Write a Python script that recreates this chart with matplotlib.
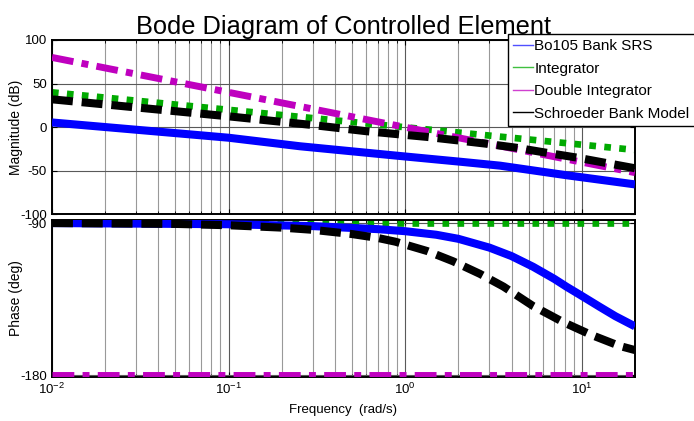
import matplotlib
matplotlib.use("Agg")
import matplotlib.pyplot as plt
from matplotlib.lines import Line2D

plt.rcParams['font.family'] = ['Liberation Sans', 'DejaVu Sans']
plt.rcParams['mathtext.fontset'] = 'custom'
plt.rcParams['mathtext.rm'] = 'Liberation Sans'
plt.rcParams['mathtext.it'] = 'Liberation Sans:italic'
plt.rcParams['axes.unicode_minus'] = False

# values
labels = ['Bo105 Bank SRS', 'Integrator', 'Double Integrator', 'Schroeder Bank Model']

# magnitude (dB)
w_bo_mag = [0.01, 0.1, 0.254, 0.93, 2, 3.44, 8.2, 20]
bo_mag = [5.5, -12, -21.8, -32.9, -39.3, -44, -55, -65.5]
w_int_mag = [0.01, 0.1, 1, 10, 20]
int_mag = [40, 20, 0, -20, -26]
dint_mag = [80, 40, 0, -40, -52]
w_sch_mag = [0.01, 0.1, 0.3, 0.6, 0.89, 1.33, 1.95, 2.83, 4.27, 6.3, 9.4, 13.7, 20]
sch_mag = [32, 12.5, 2.5, -4.5, -7.8, -11.1, -14.9, -18.7, -23.5, -29.2, -34.8, -40.9, -47]

# phase (deg)
w_bo_ph = [0.01, 0.1, 0.3, 0.7, 1, 1.5, 2, 3, 4, 5.3, 7, 8.2, 10, 12.6, 15.5, 20]
bo_ph = [-90, -90.7, -91.8, -93.6, -94.8, -96.9, -99.3, -104.5, -109.5, -115.8, -123,
         -127.6, -133, -139.4, -145, -151]
w_const = [0.01, 20]
int_ph = [-90, -90]
dint_ph = [-180, -180]
w_sch_ph = [0.01, 0.05, 0.1, 0.2, 0.3, 0.5, 0.7, 0.88, 1.33, 1.86, 2.65, 3.6, 5.3, 7.85,
            11.3, 16.3, 20]
sch_ph = [-90, -90.5, -91.3, -92.7, -94, -96.5, -98.8, -101, -106.5, -112.5, -120, -127.5,
          -139, -148.5, -156, -162.5, -165]

colors = ['#0000ff', '#00aa00', '#bf00bf', '#000000']
legend_colors = ['#5050ff', '#40c040', '#d040d0', '#000000']

fig = plt.figure(figsize=(6.94, 4.21), dpi=100)
ax1 = fig.add_axes([0.0749, 0.4905, 0.840, 0.4145])
ax2 = fig.add_axes([0.0749, 0.1057, 0.840, 0.3717])

styles = dict(
    int=dict(color=colors[1], lw=4.8, dashes=(1, 1.25), zorder=2),
    dint=dict(color=colors[2], lw=5.0, dashes=(3.14, 1.19, 1, 1.19), zorder=3),
    bo=dict(color=colors[0], lw=5.8, solid_capstyle='butt', zorder=4),
    sch=dict(color=colors[3], lw=5.8, dashes=(2.6, 1.1), zorder=5),
)

# magnitude
ax1.plot(w_int_mag, int_mag, **styles['int'])
ax1.plot(w_int_mag, dint_mag, **styles['dint'])
ax1.plot(w_bo_mag, bo_mag, **styles['bo'])
ax1.plot(w_sch_mag, sch_mag, **styles['sch'])

# phase
ax2.plot(w_const, int_ph, **styles['int'])
ax2.plot(w_const, dint_ph, **styles['dint'])
ax2.plot(w_bo_ph, bo_ph, **styles['bo'])
ax2.plot(w_sch_ph, sch_ph, **styles['sch'])

for ax in (ax1, ax2):
    ax.set_xscale('log')
    ax.set_xlim(0.01, 20)
    ax.grid(True, which='major', color='0.35', lw=0.8)
    ax.grid(True, which='minor', axis='x', color='0.6', lw=0.8)
    ax.tick_params(which='both', direction='in', top=True, right=True, labelsize=9.5)
    for s in ax.spines.values():
        s.set_linewidth(1.4)
    ax.yaxis.set_label_coords(-0.05, 0.5)

ax1.set_ylim(-100, 100)
ax1.set_yticks([-100, -50, 0, 50, 100])
ax1.tick_params(labelbottom=False)
ax1.set_ylabel('Magnitude (dB)', fontsize=10)
ax1.set_title('Bode Diagram of Controlled Element', fontsize=18.3, pad=4)

ax2.set_ylim(-180.6, -88.2)
ax2.set_yticks([-180, -90])
ax2.set_ylabel('Phase (deg)', fontsize=10)
ax2.set_xlabel('Frequency  (rad/s)', fontsize=9.5, labelpad=5)

handles = [Line2D([], [], color=c, lw=1) for c in legend_colors]
leg = fig.legend(handles, labels, loc='upper left', bbox_to_anchor=(508 / 694, 1 - 34 / 421),
                 fontsize=11, frameon=True, fancybox=False, borderpad=0.33,
                 handlelength=1.3, handletextpad=0.1, labelspacing=0.56, borderaxespad=0)
leg.get_frame().set_edgecolor('black')
leg.get_frame().set_linewidth(1.0)
leg.get_frame().set_alpha(1)

fig.savefig('out.png', dpi=100)
